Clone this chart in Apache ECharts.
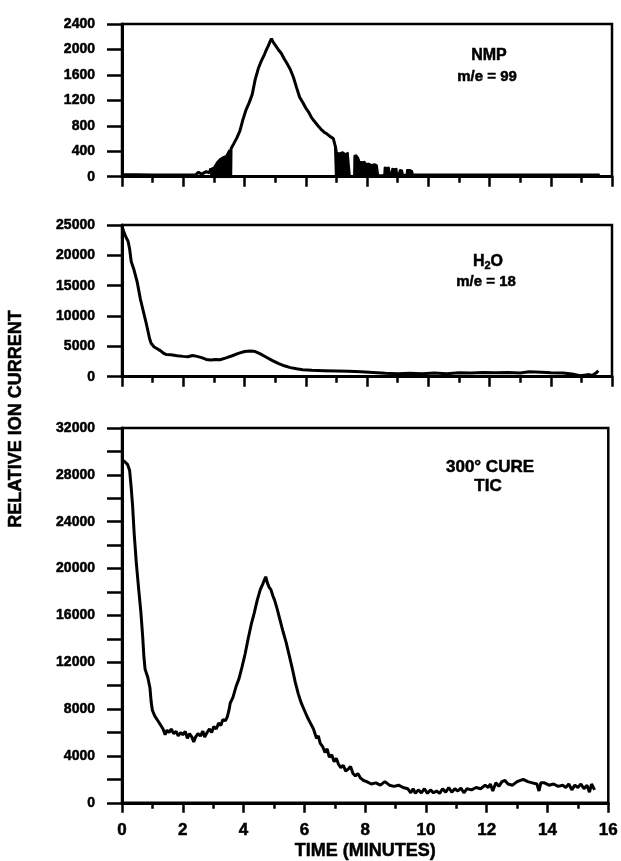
<!DOCTYPE html>
<html>
<head>
<meta charset="utf-8">
<script src="https://cdn.jsdelivr.net/npm/echarts@6/dist/echarts.min.js"></script>
<style>
html, body { margin: 0; padding: 0; background: #fff; }
#chart { width: 621px; height: 861px; }
</style>
</head>
<body>
<div id="chart"></div>
<script>
// Time axis ticks (minutes)
const timeTicks = [0, 2, 4, 6, 8, 10, 12, 14, 16];

// NMP, m/e = 99
const nmpTime = [0, 0.5, 1.0, 1.5, 2.0, 2.4, 2.5, 2.6, 2.75, 2.85, 2.9, 2.95, 3.55,
  3.56, 3.65, 3.75, 3.85, 3.95, 4.05, 4.15, 4.25, 4.35, 4.45, 4.55, 4.65, 4.72, 4.78,
  4.83, 4.88, 4.92, 4.97, 5.02, 5.1, 5.2, 5.3, 5.4, 5.5, 5.6, 5.7, 5.8, 5.9, 6.0, 6.1,
  6.2, 6.3, 6.4, 6.5, 6.6, 6.7, 6.8, 6.9, 6.97, 7.0, 9.6, 12.0, 15.6];
const nmpValue = [30, 30, 25, 25, 25, 30, 70, 40, 80, 60, 130, 0, 0,
  440, 520, 610, 720, 900, 1050, 1160, 1290, 1530, 1700, 1820, 1920, 2000, 2060,
  2120, 2170, 2130, 2090, 2060, 2000, 1940, 1850, 1770, 1680, 1560, 1400, 1250, 1170, 1080, 1010,
  920, 860, 800, 745, 700, 670, 630, 600, 470, 0, 25, 25, 25];

// NMP regions of dense oscillation, drawn as their upper envelope
const nmpBurstTime = [2.9, 2.92, 3.0, 3.05, 3.1, 3.2, 3.3, 3.4, 3.5, 3.55, 3.56, null,
  7.0, 7.02, 7.1, 7.2, 7.3, 7.38, 7.44, 7.45, 7.57, 7.58, 7.65, 7.72, 7.76, 7.85, 7.92, 7.98,
  8.05, 8.15, 8.25, 8.33, 8.38, 8.55, 8.57, 8.65, 8.72, 8.76, 8.8, 8.82, 8.9, 8.97, 9.0,
  9.05, 9.07, 9.15, 9.2, 9.28, 9.3, 9.4, 9.48, 9.52];
const nmpBurstValue = [0, 130, 150, 180, 230, 280, 310, 330, 420, 440, 0, null,
  460, 380, 370, 390, 360, 380, 350, 0, 0, 330, 340, 300, 240, 230, 240, 200,
  210, 190, 200, 180, 0, 0, 150, 140, 150, 0, 0, 130, 120, 130, 0,
  0, 110, 100, 0, 0, 110, 110, 90, 0];

// H2O, m/e = 18
const h2oTime = [0, 0.05, 0.12, 0.2, 0.25, 0.3, 0.38, 0.45, 0.5, 0.6, 0.7, 0.8, 0.9, 0.95,
  1.05, 1.15, 1.25, 1.35, 1.45, 1.6, 1.8, 2.0, 2.15, 2.3, 2.45, 2.6, 2.75, 2.9, 3.05, 3.2,
  3.4, 3.6, 3.8, 4.0, 4.2, 4.35, 4.5, 4.7, 4.9, 5.1, 5.3, 5.5, 5.7, 5.9, 6.2, 6.6, 7.0,
  7.4, 7.8, 8.2, 8.6, 9.0, 9.4, 9.8, 10.2, 10.6, 11.0, 11.4, 11.8, 12.2, 12.6, 13.0, 13.3,
  13.7, 14.0, 14.4, 14.7, 14.95, 15.1, 15.25, 15.35, 15.5, 15.55];
const h2oValue = [24800, 24000, 23100, 22300, 21000, 19000, 17800, 16500, 15500, 12800, 10700, 8600, 6300, 5500,
  4900, 4600, 4300, 3900, 3650, 3600, 3450, 3350, 3300, 3500, 3350, 3150, 2850, 2750, 2850, 2800,
  3100, 3450, 3850, 4150, 4250, 4150, 3800, 3250, 2700, 2200, 1800, 1500, 1300, 1150, 1050, 1000, 950,
  900, 820, 700, 550, 500, 550, 480, 600, 500, 650, 600, 700, 650, 700, 600, 800,
  750, 650, 600, 450, 150, 250, 350, 200, 700, 1000];

// Total ion current, 300° cure
const ticTime = [0, 0.1, 0.18, 0.25, 0.3, 0.35, 0.4, 0.47, 0.55, 0.62, 0.68, 0.72, 0.76, 0.85,
  0.92, 0.96, 1.0, 1.08, 1.18, 1.28, 1.35, 1.42, 1.48, 1.55, 1.62, 1.7, 1.78, 1.85, 1.93,
  2.0, 2.08, 2.15, 2.22, 2.3, 2.36, 2.42, 2.5, 2.58, 2.66, 2.72, 2.8, 2.88, 2.95, 3.02,
  3.1, 3.18, 3.25, 3.32, 3.4, 3.46, 3.52, 3.56, 3.65, 3.75, 3.85, 3.95, 4.05, 4.15, 4.25,
  4.35, 4.45, 4.55, 4.62, 4.68, 4.73, 4.78, 4.84, 4.9, 4.96, 5.02, 5.1, 5.2, 5.3, 5.4,
  5.5, 5.6, 5.7, 5.8, 5.9, 6.0, 6.1, 6.2, 6.3, 6.4, 6.46, 6.52, 6.6, 6.68, 6.75, 6.82,
  6.9, 6.98, 7.05, 7.12, 7.2, 7.28, 7.36, 7.45, 7.52, 7.6, 7.68, 7.76, 7.85, 7.95, 8.05,
  8.2, 8.35, 8.5, 8.65, 8.8, 8.95, 9.1, 9.25, 9.4, 9.5, 9.58, 9.65, 9.75, 9.85, 9.95,
  10.05, 10.15, 10.25, 10.35, 10.45, 10.55, 10.65, 10.75, 10.85, 10.95, 11.05, 11.15, 11.25,
  11.35, 11.5, 11.65, 11.8, 11.95, 12.05, 12.12, 12.2, 12.3, 12.4, 12.5, 12.6, 12.7, 12.85,
  13.0, 13.2, 13.35, 13.5, 13.65, 13.72, 13.78, 13.9, 14.05, 14.2, 14.35, 14.5, 14.6, 14.7,
  14.8, 14.9, 15.0, 15.1, 15.2, 15.3, 15.38, 15.45, 15.55];
const ticValue = [29300, 29100, 28900, 28400, 27000, 25300, 23000, 20500, 18200, 16300, 14200, 12500, 11400, 10700,
  9800, 8600, 7900, 7400, 7000, 6600, 6300, 5800, 6200, 6000, 6300, 5900, 6100, 5700, 6000,
  5800, 6100, 5500, 5900, 5600, 5200, 5600, 5900, 5700, 6100, 5600, 6000, 6300, 6000, 6500,
  6300, 6800, 6600, 7100, 7000, 7300, 7900, 8500, 9000, 9900, 10600, 11600, 12700, 14000, 15200,
  16200, 17300, 18200, 18600, 19000, 19300, 18800, 18400, 18200, 17700, 17300, 16600, 15600, 14600, 13700,
  12600, 11500, 10300, 9300, 8500, 7900, 7300, 6800, 6300, 5500, 5700, 5100, 4800, 4300, 4600, 3900,
  4100, 3500, 3800, 3300, 3000, 3200, 2700, 2900, 3100, 2500, 2300, 2500, 2100, 1900, 1800,
  1600, 1700, 1500, 1800, 1500, 1400, 1500, 1300, 1200, 850, 1200, 800, 1100, 850, 1200,
  800, 1100, 850, 1000, 800, 1200, 900, 1300, 900, 1200, 1000, 1250, 850,
  1200, 1100, 1300, 1200, 1500, 1300, 1600, 1000, 1700, 1400, 1800, 1900, 1600, 1500,
  1800, 2000, 1800, 1700, 1600, 1000, 1700, 1700, 1500, 1600, 1400, 1500, 1300, 1600,
  1100, 1500, 1300, 1600, 1200, 1500, 900, 1600, 1100];

const zip = (xs, ys) => xs.map((x, i) => (x === null ? [null, null] : [x, ys[i]]));
const plain = (v) => String(v);

const FONT = '"Liberation Sans"';
const INK = '#000';
const LEFT = 122, WIDTH = 490;
// slightly heavier glyphs for axis text
const heavy = { textBorderColor: INK, textBorderWidth: 0.5 };
// same for free-standing graphic text (zrender style keys)
const heavyG = { stroke: INK, lineWidth: 0.5 };

function timeAxis(gridIndex, withLabels) {
  return {
    type: 'value', gridIndex, min: timeTicks[0], max: timeTicks[timeTicks.length - 1], interval: 2,
    axisLine: { show: true, onZero: false, lineStyle: { color: INK, width: 3 } },
    axisTick: { show: true, length: 10, lineStyle: { color: INK, width: 2.5 } },
    minorTick: { show: true, splitNumber: 2, length: 6, lineStyle: { color: INK, width: 2.5 } },
    splitLine: { show: false },
    axisLabel: Object.assign({ show: withLabels, margin: 19, color: INK, fontFamily: FONT, fontWeight: 'bold', fontSize: 17, formatter: plain }, heavy),
    name: withLabels ? 'TIME (MINUTES)' : '', nameLocation: 'middle', nameGap: 39,
    nameTextStyle: Object.assign({ color: INK, fontFamily: FONT, fontWeight: 'bold', fontSize: 18 }, heavy)
  };
}

function valueAxis(gridIndex, max, interval, minorSplit) {
  return {
    type: 'value', gridIndex, min: 0, max, interval,
    axisLine: { show: true, lineStyle: { color: INK, width: 3 } },
    axisTick: { show: true, length: 15, lineStyle: { color: INK, width: 2.5 } },
    minorTick: { show: minorSplit > 1, splitNumber: minorSplit, length: 15, lineStyle: { color: INK, width: 2.5 } },
    splitLine: { show: false },
    axisLabel: Object.assign({ margin: 27, color: INK, fontFamily: FONT, fontWeight: 'bold', fontSize: 14, formatter: plain }, heavy)
  };
}

function note(text, x, y, size) {
  return { type: 'text', x, y,
    style: Object.assign({ text, fill: INK, font: 'bold ' + size + 'px ' + FONT, align: 'center', verticalAlign: 'middle' }, heavyG) };
}

const lineStyle = { color: INK, width: 3 };

const chart = echarts.init(document.getElementById('chart'), null, { renderer: 'canvas' });
chart.setOption({
  animation: false,
  backgroundColor: '#fff',
  grid: [
    { left: LEFT, width: WIDTH, top: 24, height: 152.7, show: true, borderColor: INK, borderWidth: 2.5 },
    { left: LEFT, width: WIDTH, top: 225, height: 151.7, show: true, borderColor: INK, borderWidth: 2.5 },
    { left: LEFT, width: WIDTH, top: 428, height: 376, show: true, borderColor: INK, borderWidth: 2.5 }
  ],
  xAxis: [timeAxis(0, false), timeAxis(1, false), timeAxis(2, true)],
  yAxis: [valueAxis(0, 2400, 400, 1), valueAxis(1, 25000, 5000, 1), valueAxis(2, 32000, 4000, 2)],
  series: [
    { type: 'line', name: 'NMP', xAxisIndex: 0, yAxisIndex: 0, showSymbol: false,
      data: zip(nmpTime, nmpValue), lineStyle, itemStyle: { color: INK } },
    { type: 'line', name: 'NMP bursts', xAxisIndex: 0, yAxisIndex: 0, showSymbol: false, connectNulls: false,
      data: zip(nmpBurstTime, nmpBurstValue), lineStyle: { color: INK, width: 1.5 },
      areaStyle: { color: INK, opacity: 1 }, itemStyle: { color: INK } },
    { type: 'line', name: 'H2O', xAxisIndex: 1, yAxisIndex: 1, showSymbol: false,
      data: zip(h2oTime, h2oValue), lineStyle, itemStyle: { color: INK } },
    { type: 'line', name: 'TIC', xAxisIndex: 2, yAxisIndex: 2, showSymbol: false,
      data: zip(ticTime, ticValue), lineStyle, itemStyle: { color: INK } }
  ],
  graphic: [
    { type: 'text', x: 16, y: 419, rotation: Math.PI / 2,
      style: Object.assign({ text: 'RELATIVE ION CURRENT', fill: INK, font: 'bold 18px ' + FONT, align: 'center', verticalAlign: 'middle' }, heavyG) },
    note('NMP', 489, 56, 16),
    note('m/e = 99', 487, 77, 15),
    { type: 'text', x: 488, y: 262,
      style: { text: '{a|H}{s|2}{a|O}', fill: INK, align: 'center', verticalAlign: 'middle',
        rich: { a: Object.assign({ fontFamily: FONT, fontWeight: 'bold', fontSize: 16, fill: INK }, heavyG),
                s: Object.assign({ fontFamily: FONT, fontWeight: 'bold', fontSize: 11, fill: INK, padding: [8, 0, 0, 0] }, heavyG) } } },
    note('m/e = 18', 486, 282, 15),
    note('300° CURE', 490, 467, 17),
    note('TIC', 488, 486, 17)
  ]
});
</script>
</body>
</html>
